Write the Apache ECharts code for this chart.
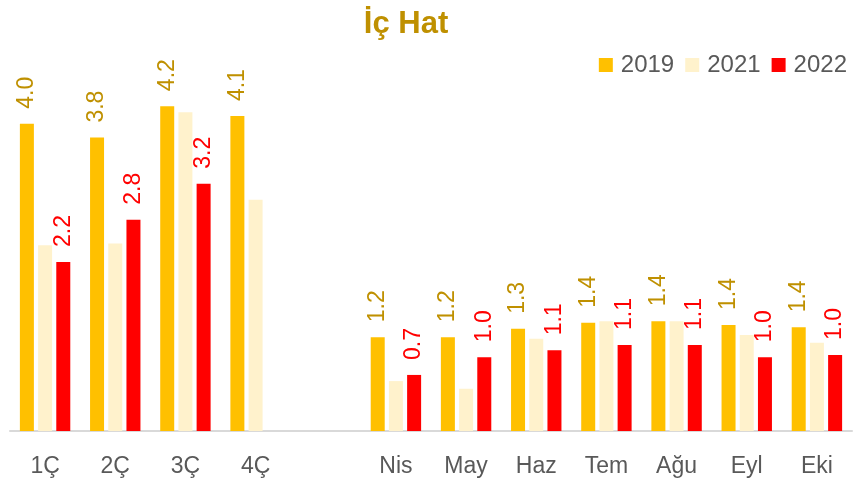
<!DOCTYPE html>
<html>
<head>
<meta charset="utf-8">
<script src="https://cdn.jsdelivr.net/npm/echarts@6/dist/echarts.min.js"></script>
<style>
html, body { margin: 0; padding: 0; background: #fff; }
#main { width: 856px; height: 485px; }
</style>
</head>
<body>
<div id="main"></div>
<script>
// kategoriler (boş olan çeyrek ile ay arasındaki boşluk)
var categories = ['1Ç', '2Ç', '3Ç', '4Ç', '', 'Nis', 'May', 'Haz', 'Tem', 'Ağu', 'Eyl', 'Eki'];
var seriesNames = ['2019', '2021', '2022'];

var data2019 = [4.0, 3.82, 4.23, 4.1, null, 1.22, 1.22, 1.33, 1.41, 1.43, 1.38, 1.35];
var data2021 = [2.42, 2.44, 4.15, 3.01, null, 0.65, 0.55, 1.2, 1.43, 1.43, 1.25, 1.15];
var data2022 = [2.2, 2.75, 3.22, null, null, 0.73, 0.96, 1.05, 1.12, 1.12, 0.96, 0.99];

var colors = ['#FFC000', '#FFF2CC', '#FF0000'];
var labelColors = ['#BF9000', null, '#FF0000'];

var font = '"Liberation Sans", Arial, sans-serif';

function makeLabel(color) {
    if (!color) return { show: false };
    return {
        show: true,
        position: 'top',
        rotate: 90,
        align: 'left',
        verticalAlign: 'middle',
        distance: 15,
        color: color,
        fontSize: 23,
        fontFamily: font,
        formatter: function (p) {
            return p.value == null ? '' : p.value.toFixed(1);
        }
    };
}

var allData = [data2019, data2021, data2022];
var series = [];
for (var i = 0; i < 3; i++) {
    series.push({
        name: seriesNames[i],
        type: 'bar',
        data: allData[i],
        barWidth: 14,
        barGap: '30%',
        itemStyle: { color: colors[i] },
        label: makeLabel(labelColors[i])
    });
}

var myChart = echarts.init(document.getElementById('main'));
var option = {
    backgroundColor: '#ffffff',
    animation: false,
    title: {
        text: 'İç Hat',
        left: 401,
        textAlign: 'center',
        top: 4,
        textStyle: {
            color: '#BF9000',
            fontSize: 31,
            fontWeight: 'bold',
            fontFamily: font
        }
    },
    legend: {
        data: seriesNames,
        right: 4,
        top: 48,
        icon: 'rect',
        itemWidth: 14,
        itemHeight: 14,
        itemGap: 11,
        textStyle: {
            color: '#595959',
            fontSize: 24,
            fontFamily: font,
            padding: [0, 0, 0, 3]
        }
    },
    grid: {
        left: 10,
        right: 4,
        top: 47,
        bottom: 54,
        containLabel: false
    },
    xAxis: {
        type: 'category',
        data: categories,
        axisLine: { lineStyle: { color: '#D9D9D9', width: 2 } },
        axisTick: { show: false },
        axisLabel: {
            color: '#595959',
            fontSize: 23,
            fontFamily: font,
            margin: 24,
            interval: 0
        }
    },
    yAxis: {
        type: 'value',
        min: 0,
        max: 5,
        show: false,
        splitLine: { show: false }
    },
    series: series
};
myChart.setOption(option);
</script>
</body>
</html>
